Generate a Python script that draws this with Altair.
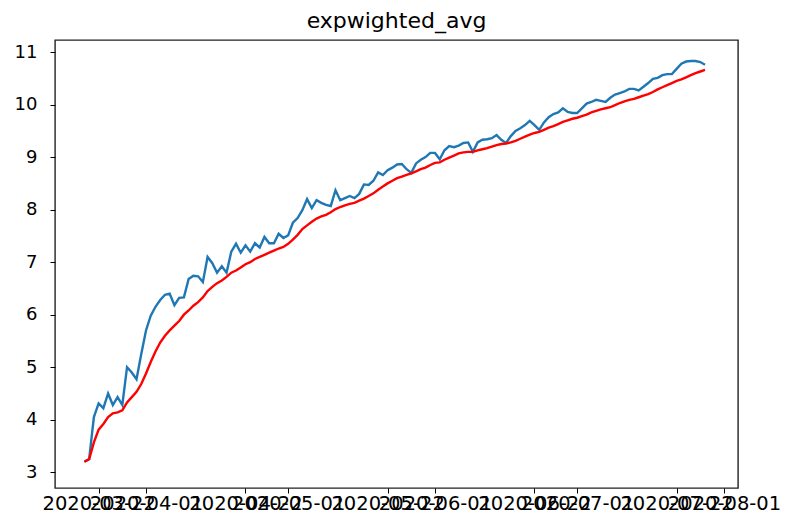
import altair as alt
import pandas as pd

# Daily observed values and their exponentially weighted average
start_date = "2020-03-19"
observed = [
    3.20, 3.25, 4.05, 4.31, 4.22, 4.50, 4.28, 4.43, 4.28, 5.00,
    4.90, 4.77, 5.25, 5.70, 5.98, 6.15, 6.28, 6.38, 6.40, 6.18,
    6.32, 6.33, 6.68, 6.74, 6.73, 6.62, 7.10, 6.98, 6.80, 6.92,
    6.80, 7.20, 7.35, 7.18, 7.32, 7.20, 7.36, 7.28, 7.48, 7.36,
    7.36, 7.54, 7.46, 7.51, 7.75, 7.84, 7.99, 8.20, 8.03, 8.18,
    8.13, 8.09, 8.07, 8.37, 8.18, 8.22, 8.26, 8.22, 8.30, 8.48,
    8.47, 8.55, 8.71, 8.66, 8.75, 8.80, 8.86, 8.87, 8.77, 8.70,
    8.88, 8.95, 9.00, 9.08, 9.08, 8.96, 9.13, 9.21, 9.19, 9.22,
    9.27, 9.28, 9.10, 9.28, 9.33, 9.34, 9.36, 9.42, 9.33, 9.27,
    9.40, 9.50, 9.55, 9.61, 9.69, 9.61, 9.52, 9.66, 9.76, 9.82,
    9.85, 9.93, 9.86, 9.84, 9.84, 9.93, 10.02, 10.05, 10.09, 10.07,
    10.05, 10.13, 10.19, 10.22, 10.25, 10.30, 10.30, 10.27, 10.34, 10.41,
    10.49, 10.51, 10.56, 10.58, 10.58, 10.68, 10.78, 10.82, 10.83, 10.83,
    10.81, 10.76,
]
ewm_avg = [
    3.20, 3.25, 3.57, 3.81, 3.92, 4.05, 4.12, 4.14, 4.18, 4.33,
    4.43, 4.53, 4.68, 4.88, 5.10, 5.30, 5.47, 5.60, 5.70, 5.79,
    5.88, 6.00, 6.08, 6.17, 6.24, 6.33, 6.45, 6.53, 6.60, 6.65,
    6.72, 6.80, 6.84, 6.90, 6.96, 7.00, 7.06, 7.10, 7.14, 7.18,
    7.22, 7.26, 7.29, 7.35, 7.43, 7.52, 7.63, 7.70, 7.77, 7.83,
    7.87, 7.90, 7.95, 8.01, 8.05, 8.08, 8.11, 8.13, 8.17, 8.21,
    8.26, 8.31, 8.38, 8.44, 8.50, 8.55, 8.60, 8.63, 8.66, 8.69,
    8.73, 8.77, 8.80, 8.85, 8.89, 8.90, 8.95, 8.99, 9.03, 9.07,
    9.09, 9.10, 9.10, 9.13, 9.15, 9.17, 9.20, 9.23, 9.25, 9.26,
    9.28, 9.31, 9.35, 9.39, 9.43, 9.46, 9.48, 9.52, 9.56, 9.59,
    9.63, 9.67, 9.70, 9.73, 9.75, 9.78, 9.81, 9.85, 9.88, 9.91,
    9.93, 9.95, 9.99, 10.03, 10.06, 10.09, 10.11, 10.14, 10.17, 10.20,
    10.24, 10.29, 10.33, 10.37, 10.41, 10.45, 10.48, 10.52, 10.56, 10.60,
    10.63, 10.66,
]
x_ticks = [
    (2020, 3, 22), (2020, 4, 1), (2020, 4, 22), (2020, 5, 1), (2020, 5, 22),
    (2020, 6, 1), (2020, 6, 22), (2020, 7, 1), (2020, 7, 22), (2020, 8, 1),
]
y_ticks = [3, 4, 5, 6, 7, 8, 9, 10, 11]

dates = pd.date_range(start_date, periods=len(observed), freq="D").strftime("%Y-%m-%d")
df = pd.DataFrame({"date": dates, "observed": observed, "ewm": ewm_avg})

FONT = "DejaVu Sans"

x_axis = alt.Axis(
    title=None,
    values=[alt.DateTime(year=y, month=m, date=d, utc=True) for y, m, d in x_ticks],
    labelExpr="utcFormat(datum.value, '%Y-%m-%d')",
    labelOverlap=False,
    labelFlush=False,
    labelBound=False,
    grid=False,
    domain=False,
    tickSize=5,
    tickColor="black",
    labelColor="black",
    labelFont=FONT,
    labelFontSize=19.5,
    labelPadding=1,
)
x_scale = alt.Scale(
    type="utc",
    domain=[
        alt.DateTime(year=2020, month=3, date=12, hours=19, utc=True),
        alt.DateTime(year=2020, month=8, date=3, hours=23, utc=True),
    ],
    nice=False,
)

y_axis = alt.Axis(
    title=None,
    values=y_ticks,
    grid=False,
    domain=False,
    tickSize=5,
    tickColor="black",
    labelColor="black",
    labelFont=FONT,
    labelFontSize=18,
    labelPadding=13,
)
y_scale = alt.Scale(domain=[2.70, 11.23], nice=False, zero=False)

blue = alt.Chart(df).mark_line(color="#1f77b4", strokeWidth=2.4).encode(
    x=alt.X("date:T", scale=x_scale, axis=x_axis),
    y=alt.Y("observed:Q", scale=y_scale, axis=y_axis),
)
red = alt.Chart(df).mark_line(color="#ff0000", strokeWidth=2.4).encode(
    x=alt.X("date:T", scale=x_scale, axis=x_axis),
    y=alt.Y("ewm:Q", scale=y_scale, axis=y_axis),
)

chart = (
    alt.layer(blue, red)
    .properties(
        width=683,
        height=448,
        autosize=alt.AutoSizeParams(type="none"),
        padding={"left": 55, "top": 40, "right": 47, "bottom": 36},
        title=alt.TitleParams(
            "expwighted_avg",
            font=FONT,
            fontSize=22,
            fontWeight="normal",
            color="black",
            offset=7,
            anchor="middle",
        ),
        background="white",
    )
    .configure_view(stroke="#222222", strokeWidth=1.4)
)

chart.save("out.html", embed_options={"renderer": "svg", "actions": False})
